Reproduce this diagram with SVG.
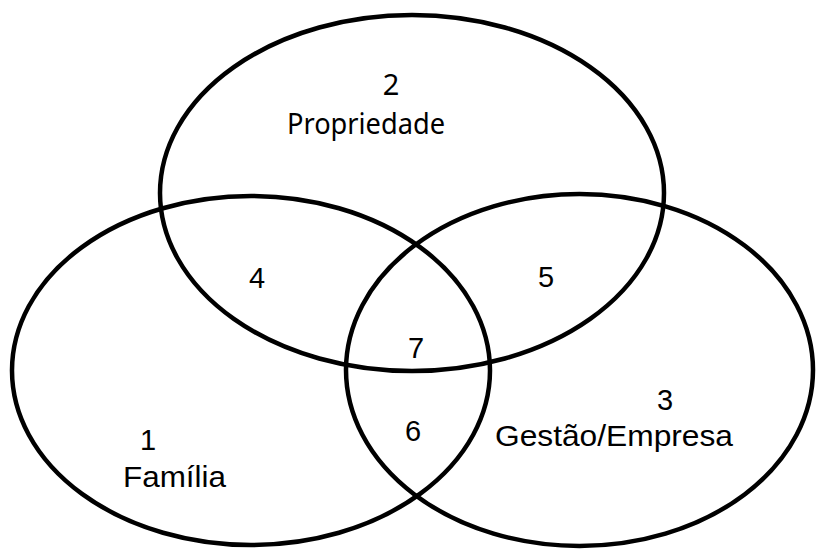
<svg xmlns="http://www.w3.org/2000/svg" width="816" height="550" viewBox="0 0 816 550">
<style>
.set{fill:none;stroke:#000;stroke-width:4.5}
.lbl{font-family:"Liberation Sans",Arial,sans-serif;font-size:29px;fill:#000}
.cal{font-family:"Noto Sans","Open Sans",sans-serif;font-size:29px;fill:#000}
</style>
<rect width="816" height="550" fill="#fff"/>
<g id="propriedade">
<ellipse class="set" cx="412" cy="193" rx="252" ry="178"/>
<text class="cal" x="391" y="95" text-anchor="middle">2</text>
<text class="cal" x="287" y="134" textLength="158" lengthAdjust="spacingAndGlyphs">Propriedade</text>
</g>
<g id="familia">
<ellipse class="set" cx="251" cy="370.5" rx="239" ry="174.5"/>
<text class="lbl" x="148" y="450" text-anchor="middle">1</text>
<text class="lbl" x="123" y="487" textLength="103" lengthAdjust="spacingAndGlyphs">Família</text>
</g>
<g id="gestao">
<ellipse class="set" cx="579.5" cy="370" rx="233.5" ry="176"/>
<text class="lbl" x="665" y="410" text-anchor="middle">3</text>
<text class="lbl" x="495" y="446" textLength="238" lengthAdjust="spacingAndGlyphs">Gestão/Empresa</text>
</g>
<g id="regions">
<text class="lbl" x="257" y="288" text-anchor="middle">4</text>
<text class="lbl" x="546" y="287" text-anchor="middle">5</text>
<text class="lbl" x="413" y="441" text-anchor="middle">6</text>
<text class="lbl" x="416" y="358" text-anchor="middle">7</text>
</g>
<g id="connectors"></g>
</svg>
